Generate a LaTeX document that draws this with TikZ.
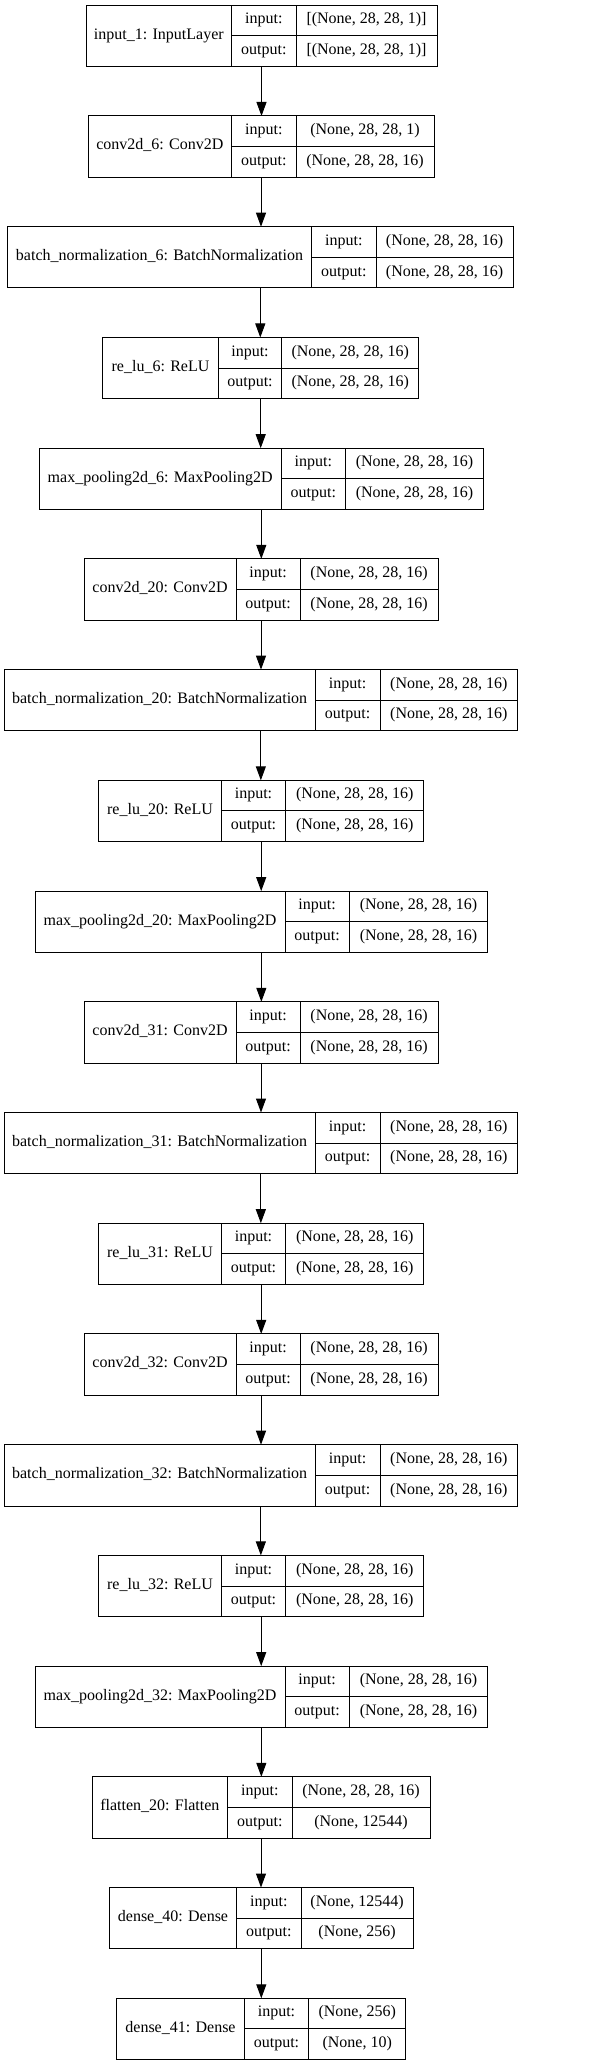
\documentclass[tikz,border=0pt]{standalone}
\usepackage{fontspec}
\setmainfont{Liberation Serif}
\usetikzlibrary{arrows.meta}

% #1 name, #2 top, #3 left, #4 first split, #5 second split, #6 right
\newcommand\layer[9]{%
\node[rec,minimum width={(#6-#3)*0.75pt}] (#1) at (#3,#2) {};
\draw (#4,#2)--(#4,{#2+61.3}) (#5,#2)--(#5,{#2+61.3})
(#4,{#2+30.65})--(#6,{#2+30.65});
\node (#1n) at ({(#3+#4)/2},{#2+30.65}) {#7};
\node (#1i) at ({(#4+#5)/2},{#2+15.3}) {input:};
\node (#1o) at ({(#4+#5)/2},{#2+46}) {output:};
\node (#1a) at ({(#5+#6)/2},{#2+15.3}) {#8};
\node (#1b) at ({(#5+#6)/2},{#2+46}) {#9};
}

\begin{document}
\begin{tikzpicture}[x=0.75pt,y=-0.75pt,line width=0.75pt,
font=\fontsize{12}{14}\selectfont,
every node/.style={inner sep=0pt,text height=8pt,text depth=3pt},
rec/.style={draw,anchor=north west,outer sep=0pt,minimum height=45.975pt,text height=0pt,text depth=0pt},
>={Triangle[length=10.5pt,width=7.5pt]}]
\useasboundingbox (0,0) rectangle (596,2065);
\layer{in1}{5.3}{86}{231.7}{296}{437}{input\_1: InputLayer}{[(None, 28, 28, 1)]}{[(None, 28, 28, 1)]}
\layer{c6}{116}{88}{231.7}{296}{434}{conv2d\_6: Conv2D}{(None, 28, 28, 1)}{(None, 28, 28, 16)}
\layer{bn6}{226.7}{7.3}{311.7}{376}{513.3}{batch\_normalization\_6: BatchNormalization}{(None, 28, 28, 16)}{(None, 28, 28, 16)}
\layer{r6}{337.5}{102.7}{218.3}{281.7}{418.7}{re\_lu\_6: ReLU}{(None, 28, 28, 16)}{(None, 28, 28, 16)}
\layer{mp6}{448.2}{39.3}{281}{345.7}{483.3}{max\_pooling2d\_6: MaxPooling2D}{(None, 28, 28, 16)}{(None, 28, 28, 16)}
\layer{c20}{558.9}{84}{236}{300.3}{438}{conv2d\_20: Conv2D}{(None, 28, 28, 16)}{(None, 28, 28, 16)}
\layer{bn20}{669.6}{4}{315.3}{380}{517.7}{batch\_normalization\_20: BatchNormalization}{(None, 28, 28, 16)}{(None, 28, 28, 16)}
\layer{r20}{780.3}{98.7}{221.3}{285.7}{423.7}{re\_lu\_20: ReLU}{(None, 28, 28, 16)}{(None, 28, 28, 16)}
\layer{mp20}{891.1}{35}{285}{349.3}{487.7}{max\_pooling2d\_20: MaxPooling2D}{(None, 28, 28, 16)}{(None, 28, 28, 16)}
\layer{c31}{1001.8}{84}{236}{300.3}{438}{conv2d\_31: Conv2D}{(None, 28, 28, 16)}{(None, 28, 28, 16)}
\layer{bn31}{1112.5}{4}{315.3}{380}{517.7}{batch\_normalization\_31: BatchNormalization}{(None, 28, 28, 16)}{(None, 28, 28, 16)}
\layer{r31}{1223.2}{98.7}{221.3}{285.7}{423.7}{re\_lu\_31: ReLU}{(None, 28, 28, 16)}{(None, 28, 28, 16)}
\layer{c32}{1333.9}{84}{236}{300.3}{438}{conv2d\_32: Conv2D}{(None, 28, 28, 16)}{(None, 28, 28, 16)}
\layer{bn32}{1444.7}{4}{315.3}{380}{517.7}{batch\_normalization\_32: BatchNormalization}{(None, 28, 28, 16)}{(None, 28, 28, 16)}
\layer{r32}{1555.4}{98.7}{221.3}{285.7}{423.7}{re\_lu\_32: ReLU}{(None, 28, 28, 16)}{(None, 28, 28, 16)}
\layer{mp32}{1666.1}{35}{285}{349.3}{487.7}{max\_pooling2d\_32: MaxPooling2D}{(None, 28, 28, 16)}{(None, 28, 28, 16)}
\layer{fl20}{1776.8}{92}{227.7}{292}{430}{flatten\_20: Flatten}{(None, 28, 28, 16)}{(None, 12544)}
\layer{d40}{1887.5}{109.3}{236.7}{301}{413.3}{dense\_40: Dense}{(None, 12544)}{(None, 256)}
\layer{d41}{1998.3}{116.7}{244.3}{308.7}{405.7}{dense\_41: Dense}{(None, 256)}{(None, 10)}
% arrows
\foreach \a/\b in {in1/c6,c6/bn6,bn6/r6,r6/mp6,mp6/c20,c20/bn20,bn20/r20,r20/mp20,mp20/c31,
c31/bn31,bn31/r31,r31/c32,c32/bn32,bn32/r32,r32/mp32,mp32/fl20,fl20/d40,d40/d41}
\draw[->](\a.south)--(\a.south|-\b.north);
\end{tikzpicture}
\end{document}
